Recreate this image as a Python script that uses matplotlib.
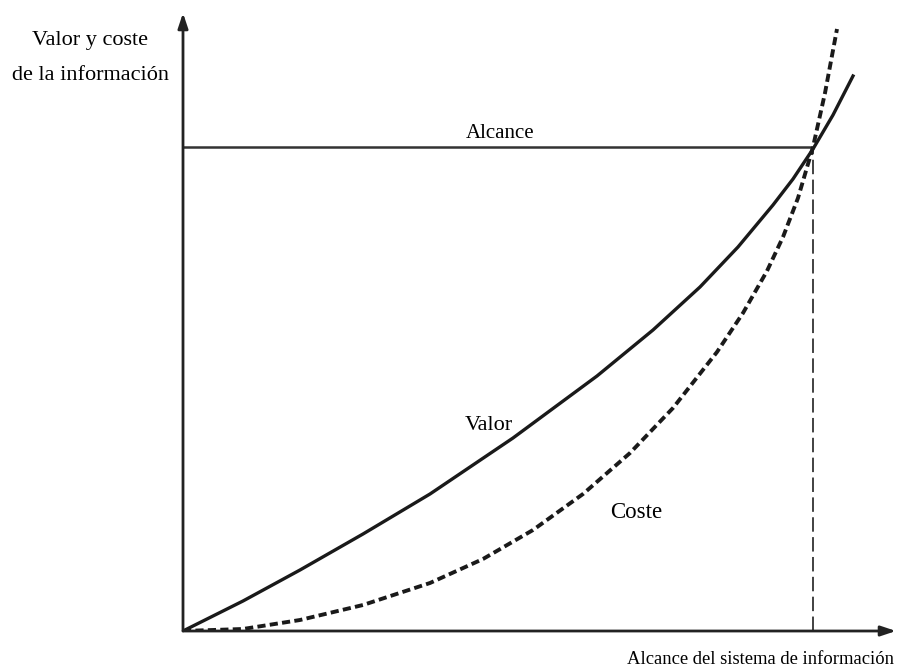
import matplotlib.pyplot as plt

# curve points (arbitrary units, origin at axes corner)
valor_x = [0, 60, 117, 180, 247, 330, 414, 470, 517, 555, 590, 610, 630,
           650, 670]
valor_y = [0, 30, 61, 97, 137, 193, 255, 301, 344, 384, 426, 452, 482,
           516, 555]
coste_x = [0, 60, 117, 180, 247, 300, 350, 400, 447, 490, 534, 560, 584,
           600, 615, 630, 642, 654]
coste_y = [0, 2, 11, 26, 48, 72, 101, 137, 178, 223, 279, 318, 360,
           394, 433, 484, 538, 602]
alcance_x = 630
alcance_y = 484

plt.rcParams['font.family'] = ['Liberation Serif', 'DejaVu Serif']

fig = plt.figure(figsize=(8.97, 6.72), dpi=100)
ax = fig.add_axes([183 / 897, 41 / 672, 714 / 897, 631 / 672])
ax.set_xlim(0, 714)
ax.set_ylim(0, 631)
ax.axis('off')

# axes with arrows
arrow = dict(arrowstyle='-|>,head_length=0.9,head_width=0.3', color='#222222',
             lw=2, shrinkA=0, shrinkB=0)
ax.annotate('', xy=(0, 618), xytext=(0, 0), arrowprops=arrow, annotation_clip=False)
ax.annotate('', xy=(713, 0), xytext=(0, 0), arrowprops=arrow, annotation_clip=False)

# reach level and its projection
ax.plot([0, alcance_x], [alcance_y, alcance_y], color='#333333', lw=1.8)
ax.plot([alcance_x, alcance_x], [0, alcance_y], color='#333333', lw=1.3,
        linestyle=(0, (8, 3)))

ax.plot(valor_x, valor_y, color='#1a1a1a', lw=2.4, solid_joinstyle='round')
ax.plot(coste_x, coste_y, color='#1a1a1a', lw=2.8, linestyle=(0, (2.1, 1.1)))

ax.text(317, 497, 'Alcance', ha='center', va='center', fontsize=15)
ax.text(306, 206, 'Valor', ha='center', va='center', fontsize=16)
ax.text(453, 118, 'Coste', ha='center', va='center', fontsize=16.5)
ax.text(-93, 591, 'Valor y coste', ha='center', va='center', fontsize=16,
        clip_on=False)
ax.text(-93, 556, 'de la información', ha='center', va='center', fontsize=16,
        clip_on=False)
ax.text(577, -29, 'Alcance del sistema de información', ha='center', va='center',
        fontsize=13.4, clip_on=False)

fig.savefig('out.png', dpi=100)
